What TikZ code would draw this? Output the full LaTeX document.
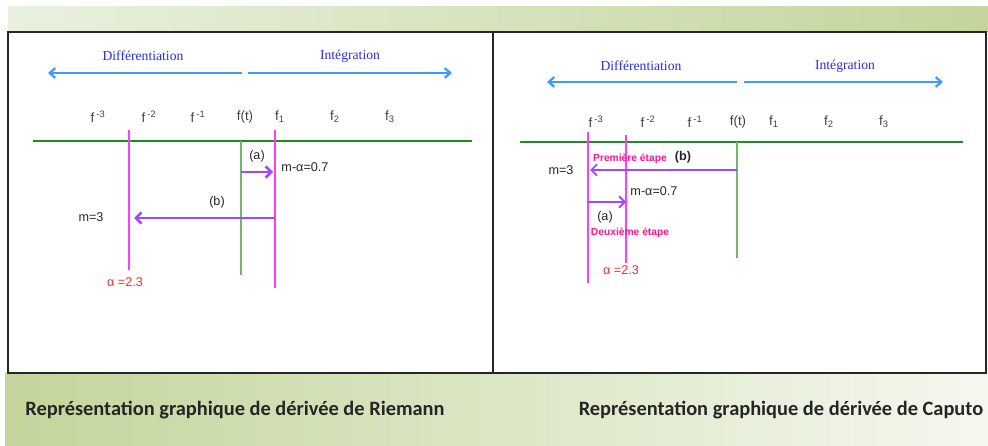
\documentclass[tikz,border=0pt]{standalone}
\usepackage{fontspec}
\setmainfont{Liberation Sans}
\newfontfamily\serfont{Liberation Serif}
\newfontfamily\capfont{Carlito}
\usetikzlibrary{arrows.meta}

\definecolor{bandlight}{HTML}{EAF0DF}
\definecolor{banddark}{HTML}{C3D59B}
\definecolor{dirblue}{HTML}{2A2AF0}
\definecolor{arrowblue}{HTML}{3D9BFF}
\definecolor{axisgreen}{HTML}{1E8C1E}
\definecolor{vgreen}{HTML}{6DB86D}
\definecolor{magline}{HTML}{FF3CFF}
\definecolor{jumpviolet}{HTML}{A346FF}
\definecolor{alphared}{HTML}{FF2A2A}
\definecolor{stepink}{HTML}{FF1493}

\begin{document}
\begin{tikzpicture}[x=0.025cm,y=-0.025cm,
  flab/.style={font=\fontsize{9.5}{11}\selectfont,text=black!75},
  lbl/.style={font=\fontsize{9}{10}\selectfont,text=black!85},
  dirlab/.style={font=\serfont\fontsize{9.7}{11}\selectfont,text=dirblue},
  diraxe/.style={draw=arrowblue,line width=1.6pt,-{Straight Barb[length=4pt,width=7pt]}},
  axe/.style={draw=axisgreen,line width=1pt},
  vmag/.style={draw=magline,line width=1.3pt},
  vgrn/.style={draw=vgreen,line width=1.1pt},
  jump/.style={draw=jumpviolet,line width=1.8pt,-{Straight Barb[length=4pt,width=8pt]}},
  steplab/.style={font=\bfseries\fontsize{7.3}{8}\selectfont,text=stepink},
  alphalab/.style={font=\fontsize{9}{10}\selectfont,text=alphared},
  caption/.style={font=\capfont\bfseries\fontsize{14.5}{16}\selectfont,text=black!85},
  frame/.style={draw=black!85,line width=1pt}]

\useasboundingbox (0,0) rectangle (988,446);

% Green bands, frame and captions
\shade[left color=bandlight,right color=banddark] (8,7) rectangle (988,32);
\shade[left color=banddark,right color=bandlight!50] (5,373) rectangle (988,446);
\draw[frame] (8,32) rectangle (986,373);
\draw[frame] (493,32) -- (493,373);

\node[caption] (capR) at (235,410) {Représentation graphique de dérivée de Riemann};
\node[caption] (capC) at (781,410) {Représentation graphique de dérivée de Caputo};

%-------------------------------------------------------------------
% Left panel: Riemann
%-------------------------------------------------------------------
\begin{scope}

% Direction of differentiation / integration
\node[dirlab] (ldiff) at (143,56) {Différentiation};
\node[dirlab] (linteg) at (350,56) {Intégration};
\coordinate (ldL) at (48,73);  \coordinate (ldR) at (242,73);
\coordinate (liL) at (248,73); \coordinate (liR) at (452,73);
\draw[diraxe] (ldR) -- (ldL);
\draw[diraxe] (liL) -- (liR);

% f labels
\foreach \x/\t/\n in {98/{f\,\textsuperscript{-3}}/m3,149/{f\,\textsuperscript{-2}}/m2,
                      198/{f\,\textsuperscript{-1}}/m1,245/{f(t)}/t,
                      280/{f\textsubscript{1}}/p1,335/{f\textsubscript{2}}/p2,
                      390/{f\textsubscript{3}}/p3}{
    \node[flab] (lf\n) at (\x,117) {\t};
}

% Axis
\coordinate (laxL) at (33,141); \coordinate (laxR) at (472,141);
\draw[axe] (laxL) -- (laxR);

% Vertical lines
\coordinate (lm3t) at (129,130); \coordinate (lm3b) at (129,270);
\coordinate (lft)  at (241,141); \coordinate (lfb)  at (241,275);
\coordinate (lp1t) at (275,130); \coordinate (lp1b) at (275,288);
\draw[vmag] (lm3t) -- (lm3b);
\draw[vgrn] (lft) -- (lfb);
\draw[vmag] (lp1t) -- (lp1b);

% Jumps (a) then (b)
\coordinate (la0) at (241,172); \coordinate (la1) at (273,172);
\coordinate (lb0) at (275,218); \coordinate (lb1) at (134,218);
\draw[jump] (la0) -- (la1);
\draw[jump] (lb0) -- (lb1);

\node[lbl] (lalab) at (257,156) {(a)};
\node[lbl] (lmalpha) at (305,167) {m-α=0.7};
\node[lbl] (lblab) at (217,202) {(b)};
\node[lbl] (lm) at (91,217) {m=3};
\node[alphalab] (lalpha) at (125,282) {α =2.3};

\end{scope}

%-------------------------------------------------------------------
% Right panel: Caputo
%-------------------------------------------------------------------
\begin{scope}

\node[dirlab] (rdiff) at (641,66) {Différentiation};
\node[dirlab] (rinteg) at (845,66) {Intégration};
\coordinate (rdL) at (547,82);  \coordinate (rdR) at (737,82);
\coordinate (riL) at (744,82);  \coordinate (riR) at (943,82);
\draw[diraxe] (rdR) -- (rdL);
\draw[diraxe] (riL) -- (riR);

\foreach \x/\t/\n in {596/{f\,\textsuperscript{-3}}/m3,648/{f\,\textsuperscript{-2}}/m2,
                      695/{f\,\textsuperscript{-1}}/m1,738/{f(t)}/t,
                      774/{f\textsubscript{1}}/p1,829/{f\textsubscript{2}}/p2,
                      884/{f\textsubscript{3}}/p3}{
    \node[flab] (rf\n) at (\x,122) {\t};
}

\coordinate (raxL) at (520,142); \coordinate (raxR) at (963,142);
\draw[axe] (raxL) -- (raxR);

\coordinate (rm3t) at (588,132); \coordinate (rm3b) at (588,283);
\coordinate (rm2t) at (626,135); \coordinate (rm2b) at (626,263);
\coordinate (rft)  at (737,142); \coordinate (rfb)  at (737,258);
\draw[vmag] (rm3t) -- (rm3b);
\draw[vmag] (rm2t) -- (rm2b);
\draw[vgrn] (rft) -- (rfb);

% First step (b), then second step (a)
\coordinate (rb0) at (737,170); \coordinate (rb1) at (590,170);
\coordinate (ra0) at (588,202); \coordinate (ra1) at (626,202);
\draw[jump,line width=1.3pt] (rb0) -- (rb1);
\draw[jump,line width=1.3pt] (ra0) -- (ra1);

\node[steplab] (rstep1) at (630,159) {Première étape};
\node[lbl,font=\bfseries\fontsize{9}{10}\selectfont] (rblab) at (683,157) {(b)};
\node[lbl] (rm) at (561,170) {m=3};
\node[lbl] (rmalpha) at (654,191) {m-α=0.7};
\node[lbl] (ralab) at (605,217) {(a)};
\node[steplab] (rstep2) at (630,233) {Deuxième étape};
\node[alphalab] (ralpha) at (621,270) {α =2.3};

\end{scope}

\end{tikzpicture}
\end{document}
